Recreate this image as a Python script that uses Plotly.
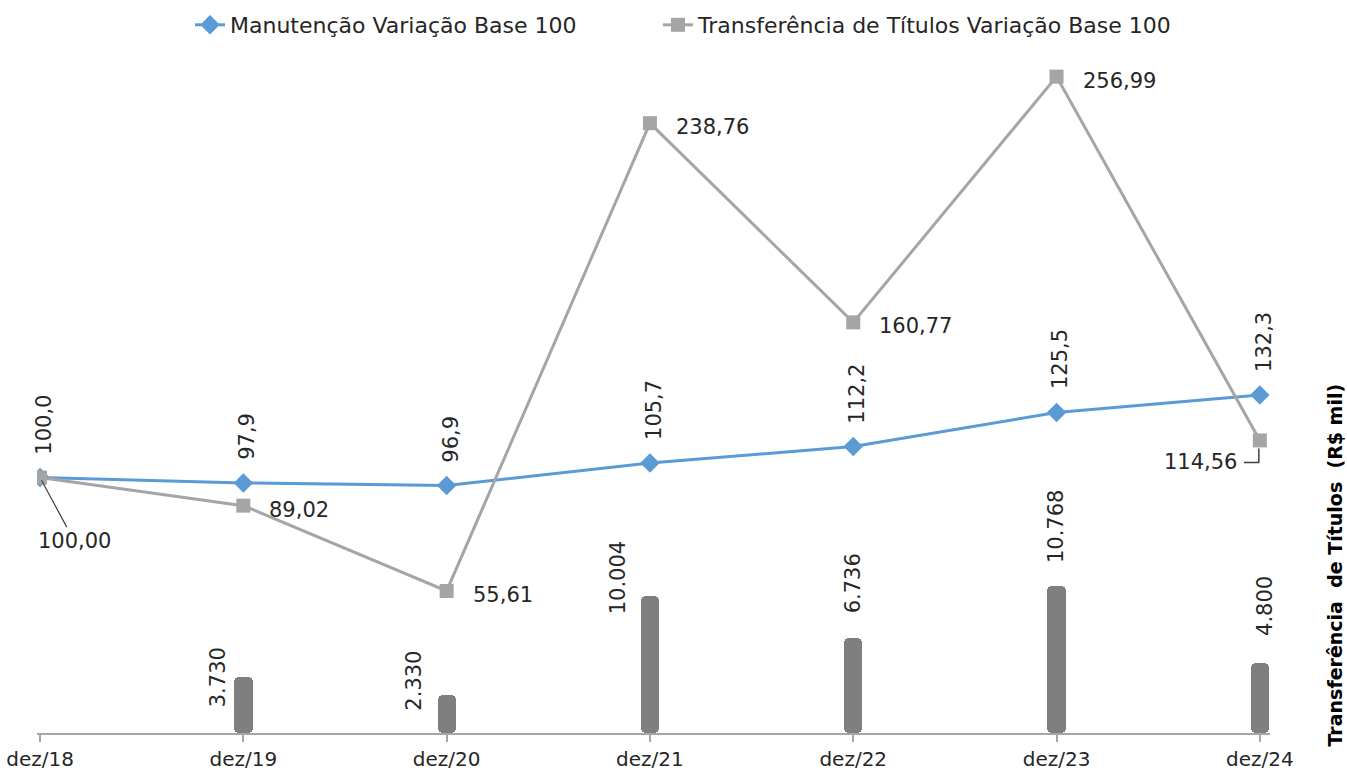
import plotly.graph_objects as go

# categorias e valores
periodos = ['dez/18', 'dez/19', 'dez/20', 'dez/21', 'dez/22', 'dez/23', 'dez/24']
manutencao = [100.0, 97.9, 96.9, 105.7, 112.2, 125.5, 132.3]
transf_base100 = [100.00, 89.02, 55.61, 238.76, 160.77, 256.99, 114.56]
transf_mil = [None, 3730, 2330, 10004, 6736, 10768, 4800]

AZUL = '#5b9bd5'
CINZA = '#a5a5a5'
BARRA = '#7f7f7f'
TEXTO = '#262626'
FONTE = 'DejaVu Sans'

W, H = 1347, 777
ML, MR, MT, MB = 37, 77, 60, 44
PW, PH = W - ML - MR, H - MT - MB

Y1_MIN = -612  # eixo das barras começa um pouco abaixo de zero


def fmt_br(v, casas):
    s = f'{v:,.{casas}f}'
    return s.replace(',', 'X').replace('.', ',').replace('X', '.')


x = list(range(len(periodos)))

fig = go.Figure()

fig.add_trace(go.Bar(
    x=x, y=[None if v is None else v - Y1_MIN for v in transf_mil], base=Y1_MIN,
    width=0.09,
    marker=dict(color=BARRA, cornerradius=5, line_width=0),
    showlegend=False, yaxis='y'
))
fig.add_trace(go.Scatter(
    x=x, y=manutencao, mode='lines+markers',
    name='Manutenção Variação Base 100',
    line=dict(color=AZUL, width=3),
    marker=dict(symbol='diamond', size=15, color=AZUL),
    yaxis='y2', legend='legend'
))
fig.add_trace(go.Scatter(
    x=x, y=transf_base100, mode='lines+markers',
    name='Transferência de Títulos Variação Base 100',
    line=dict(color=CINZA, width=3),
    marker=dict(symbol='square', size=14, color=CINZA),
    yaxis='y2', legend='legend2'
))

anots = []

# rótulos verticais da linha azul
for i, v in enumerate(manutencao):
    anots.append(dict(
        x=i, y=v, xref='x', yref='y2', text=fmt_br(v, 1),
        textangle=-90, showarrow=False, xanchor='center', yanchor='bottom',
        xshift=4, yshift=21, font=dict(family=FONTE, size=21, color=TEXTO)
    ))

# rótulos da linha cinza (à direita do marcador)
for i, v in enumerate(transf_base100):
    if i in (0, 6):
        continue
    anots.append(dict(
        x=i, y=v, xref='x', yref='y2', text=fmt_br(v, 2),
        showarrow=False, xanchor='left', yanchor='middle',
        xshift=24, yshift=-4, font=dict(family=FONTE, size=21, color=TEXTO)
    ))

# 100,00 com linha de chamada
anots.append(dict(
    x=0, y=transf_base100[0], xref='x', yref='y2', text=fmt_br(transf_base100[0], 2),
    showarrow=True, arrowhead=0, arrowwidth=1.2, arrowcolor='#404040',
    ax=34, ay=63, standoff=3, font=dict(family=FONTE, size=21, color=TEXTO)
))
# 114,56 com linha de chamada em cotovelo
anots.append(dict(
    x=6, y=transf_base100[6], xref='x', yref='y2', text=fmt_br(transf_base100[6], 2),
    showarrow=False, xanchor='right', yanchor='middle',
    xshift=-21, yshift=-22, font=dict(family=FONTE, size=21, color=TEXTO)
))

# rótulos das barras
desloc_barras = [None, (-25, -32), (-33, -18), (-32, -20), (0, 23), (0, 21), (5, 25)]
for i, v in enumerate(transf_mil):
    if v is None:
        continue
    dx, dy = desloc_barras[i]
    anots.append(dict(
        x=i, y=v, xref='x', yref='y', text=fmt_br(v, 0),
        textangle=-90, showarrow=False, xanchor='center', yanchor='bottom',
        xshift=dx, yshift=dy, font=dict(family=FONTE, size=21, color=TEXTO)
    ))

# título do eixo da direita
anots.append(dict(
    x=(1334 - ML) / PW, y=(H - MB - 749) / PH, xref='paper', yref='paper',
    text='<b>Transferência  de Títulos  (R$ mil)</b>',
    textangle=-90, showarrow=False, xanchor='center', yanchor='bottom',
    font=dict(family=FONTE, size=19, color='#000000')
))

leg = dict(
    orientation='h', xref='container', yref='container', yanchor='middle',
    y=1 - 25 / H, xanchor='left',
    font=dict(family=FONTE, size=22, color=TEXTO), bgcolor='rgba(0,0,0,0)'
)

fig.update_layout(
    width=W, height=H,
    margin=dict(l=ML, r=MR, t=MT, b=MB, autoexpand=False),
    paper_bgcolor='white', plot_bgcolor='white',
    font=dict(family=FONTE, size=20, color=TEXTO),
    bargap=0,
    annotations=anots,
    shapes=[dict(
        type='path', xref='x', yref='y2', xsizemode='pixel', ysizemode='pixel',
        xanchor=6, yanchor=transf_base100[6],
        path='M -1,-8 L -1,-22 L -16,-22',
        line=dict(color='#404040', width=1.5)
    )],
    legend=dict(leg, x=190 / W),
    legend2=dict(leg, x=658 / W),
    xaxis=dict(
        range=[-0.015, 6.05], tickmode='array', tickvals=x, ticktext=periodos,
        showgrid=False, zeroline=False, showline=True, linecolor='#a6a6a6', linewidth=2,
        ticks='outside', ticklen=7, tickcolor='#a6a6a6', tickwidth=1.5,
        tickfont=dict(family=FONTE, size=20, color=TEXTO), automargin=False,
        ticklabeloverflow='allow'
    ),
    yaxis=dict(range=[Y1_MIN, 51486], visible=False, fixedrange=True),
    yaxis2=dict(range=[0, 263.5], visible=False, overlaying='y', side='right'),
)

# sem a margem padrão do body, a figura ocupa a janela inteira
fig.write_html('out.html', config={'displayModeBar': False},
               post_script="document.body.style.margin='0';")
